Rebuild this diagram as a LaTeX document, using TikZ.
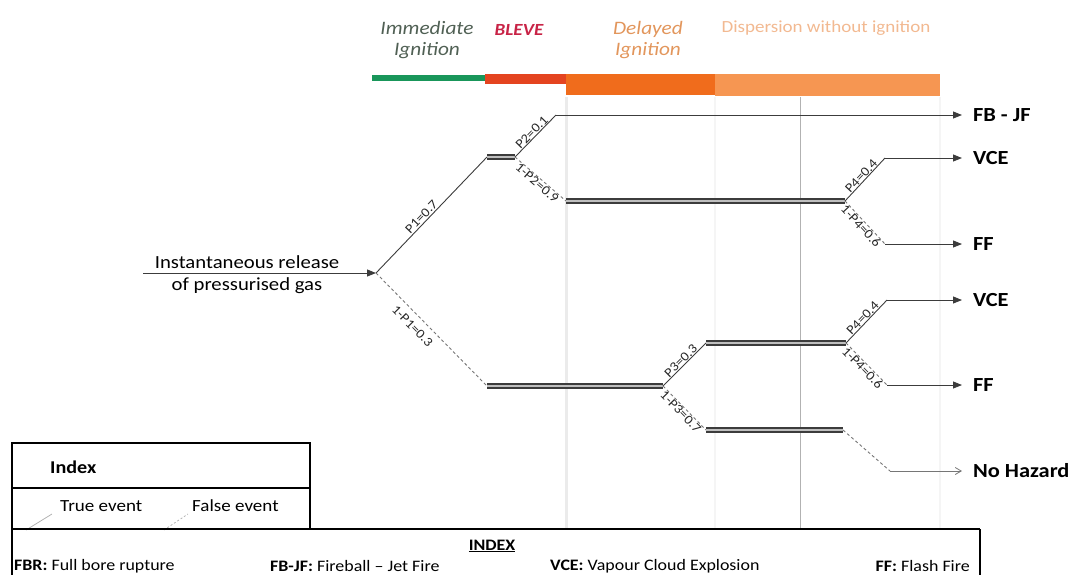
\documentclass[tikz,border=0pt]{standalone}
\usepackage{fontspec}
\setmainfont{Carlito}[FakeStretch=1.12]
\usetikzlibrary{arrows.meta}
\definecolor{greenc}{RGB}{25,150,90}
\definecolor{redc}{RGB}{228,68,32}
\definecolor{orangec}{RGB}{240,108,28}
\definecolor{lorange}{RGB}{246,150,82}
\definecolor{immc}{RGB}{80,96,84}
\definecolor{blevec}{RGB}{200,35,70}
\definecolor{delc}{RGB}{226,150,92}
\definecolor{somc}{RGB}{242,185,145}
\definecolor{linec}{RGB}{60,60,60}
\begin{document}
\begin{tikzpicture}[x=1pt,y=-1pt,
  truel/.style={draw=linec, line width=0.9pt},
  falsel/.style={draw=linec!70, line width=0.9pt, dash pattern=on 3pt off 2.5pt},
  stagebar/.style={draw=linec, line width=2pt, double=gray!50, double distance=1.5pt},
  arr/.style={-{Triangle[length=9pt,width=7pt]}},
  plab/.style={font=\fontsize{13}{13}\selectfont, sloped, inner sep=0.5pt, text=black!85},
  outc/.style={font=\fontsize{20}{20}\selectfont\bfseries, anchor=west, inner xsep=11pt, inner ysep=0pt, outer sep=0pt},
  toplab/.style={font=\fontsize{19}{21}\selectfont\itshape, align=center, inner sep=0pt},
  legtxt/.style={font=\fontsize{17}{17}\selectfont, anchor=west, inner sep=0pt},
  idxtxt/.style={font=\fontsize{16}{16}\selectfont, anchor=west, inner sep=0pt}
]
\useasboundingbox (0,0) rectangle (1079,574);
\clip (0,0) rectangle (1079,574);

% background grid lines
\draw[gray!16, line width=3pt] (566,97) -- (566,528);
\draw[gray!8, line width=2pt] (715,97) -- (715,528);
\draw[gray!60, line width=0.6pt] (800,97) -- (800,528);
\draw[gray!8, line width=2pt] (940,97) -- (940,528);

% top timeline bar
\fill[greenc] (372,75) rectangle (485,81);
\fill[redc] (485,74) rectangle (566,84);
\fill[orangec] (566,74) rectangle (715,95);
\fill[lorange] (715,74) rectangle (940,96);

% top labels
\node[toplab, text=immc] (imm) at (427,40) {Immediate\\Ignition};
\node[toplab, text=blevec, font=\fontsize{17}{17}\selectfont\bfseries\itshape] (blv) at (519,30) {BLEVE};
\node[toplab, text=delc] (del) at (648,40) {Delayed\\Ignition};
\node[toplab, text=somc, font=\fontsize{17}{17}\selectfont] (som) at (826,28) {Dispersion without ignition};

% source
\node[font=\fontsize{18.5}{18.5}\selectfont, inner sep=0pt] (src1) at (247,262) {Instantaneous release};
\node[font=\fontsize{18.5}{18.5}\selectfont, inner sep=0pt] (src2) at (247,286) {of pressurised gas};
\coordinate (S0) at (143,273);
\coordinate (R) at (376,273);
\draw[truel, arr] (S0) -- (R);

% tree coordinates
\coordinate (A1) at (487,157);
\coordinate (A2) at (515,157);
\coordinate (B1) at (556,115);
\coordinate (B2) at (566,201);
\coordinate (C) at (845,201);
\coordinate (C1) at (885,158);
\coordinate (C2) at (885,244);
\coordinate (L1) at (487,386);
\coordinate (D) at (663,386);
\coordinate (D1) at (706,343);
\coordinate (E) at (846,343);
\coordinate (D2) at (706,430);
\coordinate (F) at (843,430);
\coordinate (E1) at (887,300);
\coordinate (E2) at (887,385);
\coordinate (F1) at (890,471);

% outcome labels
\node[outc] (o1) at (962,115) {FB - JF};
\node[outc] (o2) at (962,158) {VCE};
\node[outc] (o3) at (962,244) {FF};
\node[outc] (o4) at (962,300) {VCE};
\node[outc] (o5) at (962,385) {FF};
\node[outc] (o6) at (962,471) {No Hazard};

% upper branch
\draw[truel] (R) -- node[plab, above=1pt, pos=0.45] {P1=0.7} (A1);
\draw[stagebar] (A1) -- (A2);
\draw[truel] (A2) -- node[plab, above] {P2=0.1} (B1);
\draw[truel, arr] (B1) -- (o1.west);
\draw[falsel] (A2) -- node[plab, below] {1-P2=0.9} (B2);
\draw[stagebar] (B2) -- (C);
\draw[truel] (C) -- node[plab, above] {P4=0.4} (C1);
\draw[truel, arr] (C1) -- (o2.west);
\draw[falsel] (C) -- node[plab, below] {1-P4=0.6} (C2);
\draw[truel, arr] (C2) -- (o3.west);

% lower branch
\draw[falsel] (R) -- node[plab, below=6pt, pos=0.4] {1-P1=0.3} (L1);
\draw[stagebar] (L1) -- (D);
\draw[truel] (D) -- node[plab, above] {P3=0.3} (D1);
\draw[stagebar] (D1) -- (E);
\draw[falsel] (D) -- node[plab, below] {1-P3=0.7} (D2);
\draw[stagebar] (D2) -- (F);
\draw[truel] (E) -- node[plab, above] {P4=0.4} (E1);
\draw[truel, arr] (E1) -- (o4.west);
\draw[falsel] (E) -- node[plab, below] {1-P4=0.6} (E2);
\draw[truel, arr] (E2) -- (o5.west);
\draw[falsel] (F) -- (F1);
\draw[draw=linec!70, line width=0.8pt, -{Straight Barb[length=6pt,width=7pt]}] (F1) -- (o6.west);

% legend box
\draw[black, line width=1.3pt] (12,443) rectangle (310,529);
\draw[black, line width=1.3pt] (12,488) -- (310,488);
\node[legtxt, font=\fontsize{18}{18}\selectfont\bfseries] (idx) at (50,467) {Index};
\node[legtxt] (tev) at (60,506) {True event};
\node[legtxt] (fev) at (192,506) {False event};
\coordinate (t1) at (26,530);
\coordinate (t2) at (52,514);
\draw[gray!60, line width=0.8pt] (t1) -- (t2);
\coordinate (f1) at (164,530);
\coordinate (f2) at (188,514);
\draw[gray!60, line width=0.8pt, dash pattern=on 2pt off 2pt] (f1) -- (f2);

% lower index box
\draw[black, line width=2.4pt] (12,529) -- (980,529);
\draw[black, line width=1.2pt] (12,529) -- (12,580);
\draw[black, line width=1.2pt] (980,529) -- (980,580);
\node[font=\fontsize{16}{16}\selectfont\bfseries, inner sep=0pt] (IDX) at (492,546) {\underline{INDEX}};
\node[idxtxt] (n1) at (14,566) {\textbf{FBR:} Full bore rupture};
\node[idxtxt] (n2) at (270,566) {\textbf{FB-JF:} Fireball – Jet Fire};
\node[idxtxt] (n3) at (550,566) {\textbf{VCE:} Vapour Cloud Explosion};
\node[idxtxt, anchor=east] (n4) at (970,566) {\textbf{FF:} Flash Fire};
\end{tikzpicture}
\end{document}
